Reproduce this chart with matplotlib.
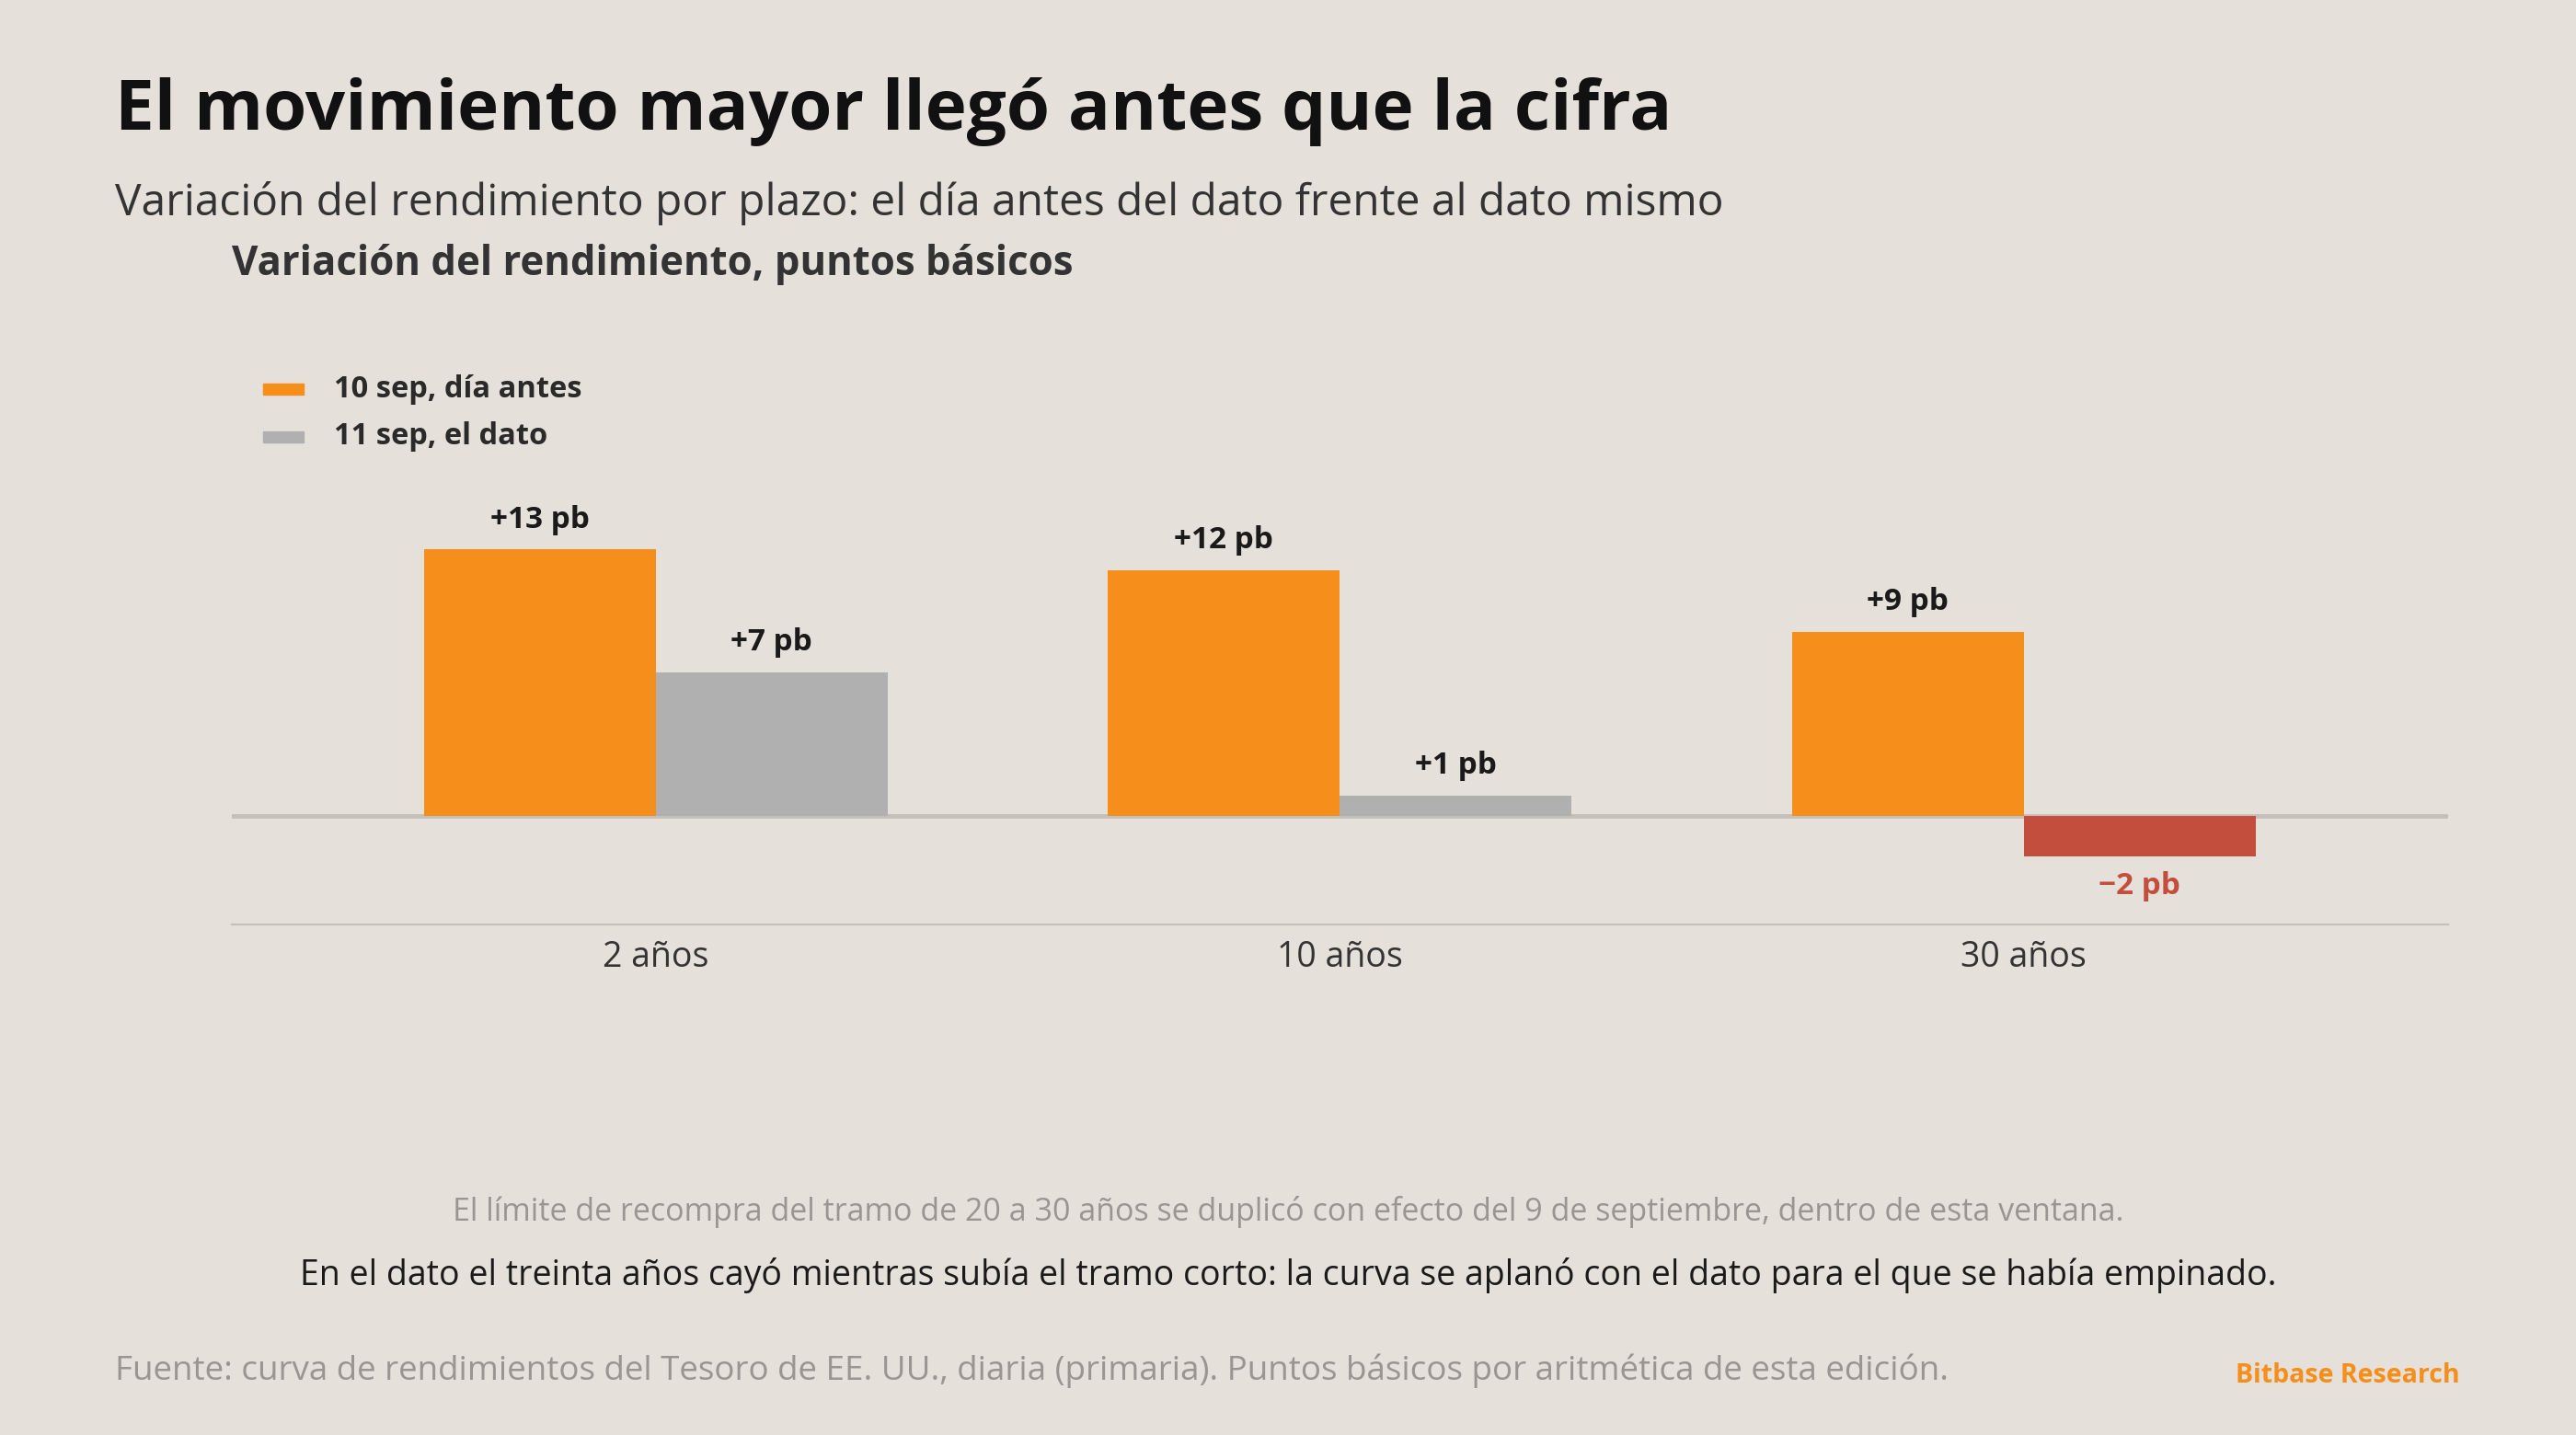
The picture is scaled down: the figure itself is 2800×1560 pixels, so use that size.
import matplotlib
matplotlib.use("Agg")
import matplotlib.pyplot as plt
import numpy as np

plazos = ["2 años", "10 años", "30 años"]
dia_antes = [13, 12, 9]
el_dato = [7, 1, -2]
serie_antes = "10 sep, día antes"
serie_dato = "11 sep, el dato"

BG = "#E5E0DA"
ORANGE = "#F58E1A"
GRAY = "#B0B0B0"
RED = "#C44E3E"
FONT = ["Open Sans", "DejaVu Sans"]
plt.rcParams["font.family"] = FONT

W, H = 1568, 874  # layout measured on the reference preview
fig = plt.figure(figsize=(28, 15.6), dpi=100, facecolor=BG)


def fy(y):
    return 1 - y / H


ax = fig.add_axes([141 / W, fy(563), (1490 - 141) / W, fy(210) - fy(563)])
ax.set_facecolor(BG)
x = np.arange(len(plazos))
bw = 0.339
ax.bar(x - bw / 2, dia_antes, bw, color=ORANGE)
colors = [GRAY if v >= 0 else RED for v in el_dato]
ax.bar(x + bw / 2, el_dato, bw, color=colors)
for xi, v in zip(x, dia_antes):
    ax.text(xi - bw / 2, v + 0.7, f"+{v} pb", ha="center", va="bottom",
            fontsize=24, fontweight="bold", color="#1a1a1a")
for xi, v in zip(x, el_dato):
    if v >= 0:
        ax.text(xi + bw / 2, v + 0.7, f"+{v} pb", ha="center", va="bottom",
                fontsize=24, fontweight="bold", color="#1a1a1a")
    else:
        ax.text(xi + bw / 2, v - 0.7, f"\u2212{abs(v)} pb", ha="center", va="top",
                fontsize=24, fontweight="bold", color=RED)
ax.axhline(0, color="#C4BFB8", lw=3.5, zorder=0)
ax.set_xlim(-0.62, 2.62)
ax.set_ylim(-5.3, 23)
ax.set_yticks([])
ax.set_xticks(x)
ax.set_xticklabels(plazos, fontsize=27, color="#333333")
ax.tick_params(axis="x", length=0, pad=12)
for s in ["top", "left", "right"]:
    ax.spines[s].set_visible(False)
ax.spines["bottom"].set_color("#C4BFB8")
ax.spines["bottom"].set_linewidth(1.5)

# legend
for y, c, lab in [(237, ORANGE, serie_antes), (266, GRAY, serie_dato)]:
    fig.patches.append(plt.Rectangle((160 / W, fy(y) - 0.004), 25 / W, 0.008,
                                     color=c, transform=fig.transFigure))
    fig.text(203 / W, fy(y), lab, fontsize=23.5, fontweight="bold",
             color="#2a2a2a", va="center")

fig.text(70 / W, fy(68), "El movimiento mayor llegó antes que la cifra",
         fontsize=55, fontweight="bold", color="#111111", va="center")
fig.text(70 / W, fy(124),
         "Variación del rendimiento por plazo: el día antes del dato frente al dato mismo",
         fontsize=34.5, color="#333333", va="center")
fig.text(141 / W, fy(161), "Variación del rendimiento, puntos básicos",
         fontsize=31.5, fontweight="bold", color="#333333", va="center")
fig.text(784 / W, fy(738),
         "El límite de recompra del tramo de 20 a 30 años se duplicó con efecto del 9 de septiembre, dentro de esta ventana.",
         fontsize=24.5, color="#999590", ha="center", va="center")
fig.text(784 / W, fy(777),
         "En el dato el treinta años cayó mientras subía el tramo corto: la curva se aplanó con el dato para el que se había empinado.",
         fontsize=27, color="#1a1a1a", ha="center", va="center")
fig.text(70 / W, fy(835),
         "Fuente: curva de rendimientos del Tesoro de EE. UU., diaria (primaria). Puntos básicos por aritmética de esta edición.",
         fontsize=26.5, color="#999590", va="center")
fig.text(1497 / W, fy(838), "Bitbase Research", fontsize=20.5, fontweight="bold",
         color=ORANGE, ha="right", va="center")

fig.savefig("out.png", dpi=100, facecolor=BG)
